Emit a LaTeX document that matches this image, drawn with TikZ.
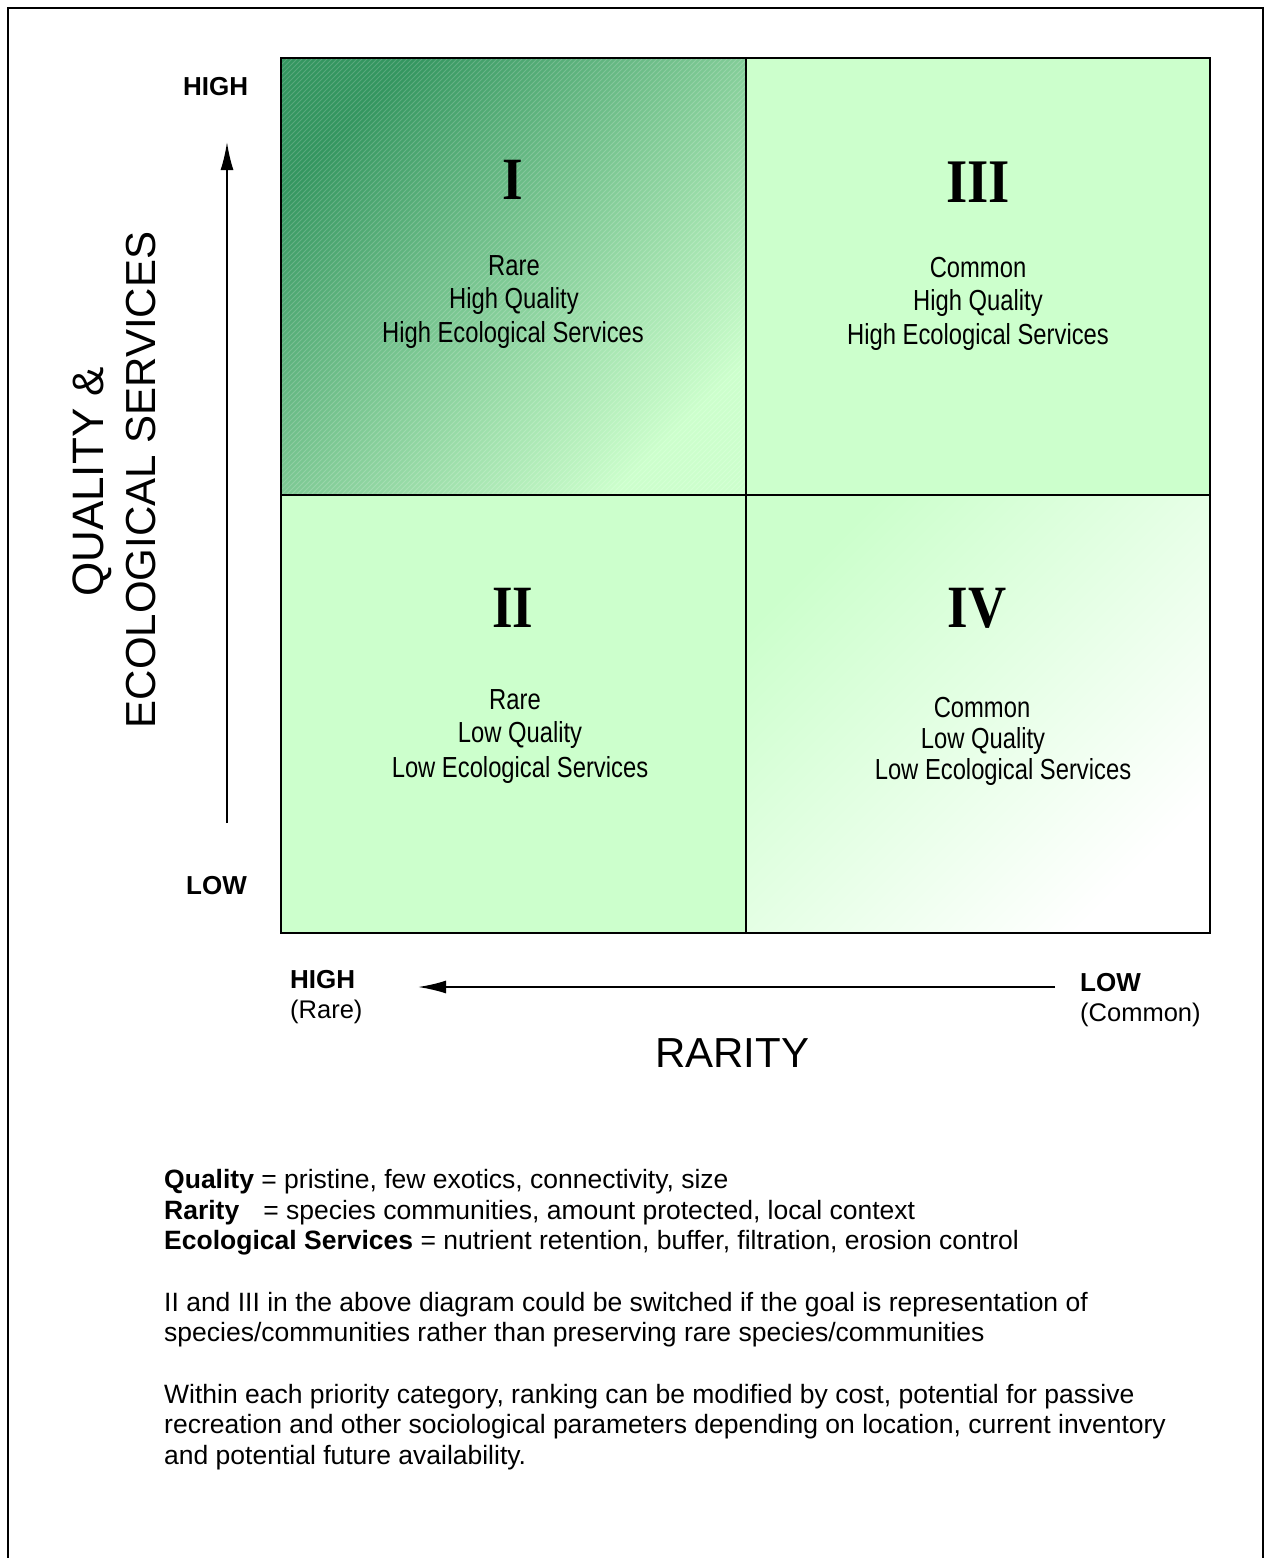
\documentclass[tikz,border=0pt]{standalone}
\usepackage{fontspec}
\setmainfont{Liberation Sans}
\newfontfamily\narrowfont[FakeStretch=0.82]{Liberation Sans}
\newfontfamily\numeralfont[FakeStretch=0.88]{Liberation Serif}
\usetikzlibrary{arrows.meta}
\definecolor{deepgreen}{RGB}{52,150,96}
\definecolor{mint}{RGB}{204,255,204}

\begin{document}
\begin{tikzpicture}[x=1pt,y=-1pt,
  quadline/.style={line width=2pt},
  numeral/.style={font=\fontsize{60}{60}\selectfont\numeralfont\bfseries, anchor=base, inner sep=0pt},
  qtext/.style={font=\fontsize{29}{33}\selectfont\narrowfont, anchor=base, inner sep=0pt},
  axislabel/.style={font=\fontsize{26}{30}\selectfont\bfseries, anchor=base west, inner sep=0pt},
  axisnote/.style={font=\fontsize{25.5}{30}\selectfont, anchor=base west, inner sep=0pt},
  axistitle/.style={font=\fontsize{42}{42}\selectfont, anchor=base, inner sep=0pt},
  noteline/.style={font=\fontsize{26.5}{30.5}\selectfont, anchor=base west, inner sep=0pt},
  axisarrow/.style={line width=2pt, -{Latex[length=28pt,width=13pt]}}
]
\useasboundingbox (0,0) rectangle (1265,1558);

% page frame, open at the bottom
\draw[line width=1.5pt] (8,1558) -- (8,8) -- (1263,8) -- (1263,1558);

% quadrant fills
\shade[top color=deepgreen, bottom color=mint, shading angle=45] (281,58) rectangle (746,495);
\begin{scope}
  \clip (281,58) rectangle (746,495);
  \foreach \k in {-440,-435,...,470}
    \draw[white, opacity=0.18, line width=0.8pt] (281+\k,495) -- ++(437,-437);
\end{scope}
\fill[mint] (746,58) rectangle (1210,495);
\fill[mint] (281,495) rectangle (746,933);
\shade[top color=mint, bottom color=white, shading angle=45] (746,495) rectangle (1210,933);

% grid
\draw[quadline] (281,58) rectangle (1210,933);
\draw[quadline] (746,58) -- (746,933);
\draw[quadline] (281,495) -- (1210,495);

% quadrant I
\node[numeral] (n1) at (513,199) {I};
\node[qtext] (q1a) at (514,275) {Rare};
\node[qtext] (q1b) at (514,308) {High Quality};
\node[qtext] (q1c) at (513,342) {High Ecological Services};

% quadrant III
\node[numeral, font=\fontsize{62}{62}\selectfont\numeralfont\bfseries] (n3) at (978,202) {III};
\node[qtext] (q3a) at (978,277) {Common};
\node[qtext] (q3b) at (978,310) {High Quality};
\node[qtext] (q3c) at (978,344) {High Ecological Services};

% quadrant II
\node[numeral] (n2) at (513,627) {II};
\node[qtext] (q2a) at (515,709) {Rare};
\node[qtext] (q2b) at (520,742) {Low Quality};
\node[qtext] (q2c) at (520,777) {Low Ecological Services};

% quadrant IV
\node[numeral] (n4) at (977,627) {IV};
\node[qtext] (q4a) at (982,717) {Common};
\node[qtext] (q4b) at (983,748) {Low Quality};
\node[qtext] (q4c) at (1003,779) {Low Ecological Services};

% vertical axis
\node[axislabel] (yhigh) at (183,95) {HIGH};
\node[axislabel] (ylow) at (186,894) {LOW};
\coordinate (ytail) at (227,823);
\coordinate (ytip) at (227,142);
\draw[axisarrow] (ytail) -- (ytip);
\node[axistitle, font=\fontsize{44}{44}\selectfont, rotate=90] (ytitle1) at (103,482) {QUALITY \&};
\node[axistitle, rotate=90] (ytitle2) at (155,480) {ECOLOGICAL SERVICES};

% horizontal axis
\node[axislabel] (xhigh) at (290,988) {HIGH};
\node[axisnote] (xhighnote) at (290,1018) {(Rare)};
\node[axislabel] (xlow) at (1080,991) {LOW};
\node[axisnote] (xlownote) at (1080,1021) {(Common)};
\coordinate (xtail) at (1055,987);
\coordinate (xtip) at (418,987);
\draw[axisarrow] (xtail) -- (xtip);
\node[axistitle] (xtitle) at (732,1067) {RARITY};

% definitions and notes
\node[noteline] (d1) at (164,1188) {\textbf{Quality} = pristine, few exotics, connectivity, size};
\node[noteline] (d2) at (164,1219) {\textbf{Rarity}\hspace{24pt}= species communities, amount protected, local context};
\node[noteline] (d3) at (164,1249) {\textbf{Ecological Services} = nutrient retention, buffer, filtration, erosion control};

\node[noteline] (p1) at (164,1311) {II and III in the above diagram could be switched if the goal is representation of};
\node[noteline] (p2) at (164,1341) {species/communities rather than preserving rare species/communities};

\node[noteline] (r1) at (164,1403) {Within each priority category, ranking can be modified by cost, potential for passive};
\node[noteline] (r2) at (164,1433) {recreation and other sociological parameters depending on location, current inventory};
\node[noteline] (r3) at (164,1464) {and potential future availability.};
\end{tikzpicture}
\end{document}
